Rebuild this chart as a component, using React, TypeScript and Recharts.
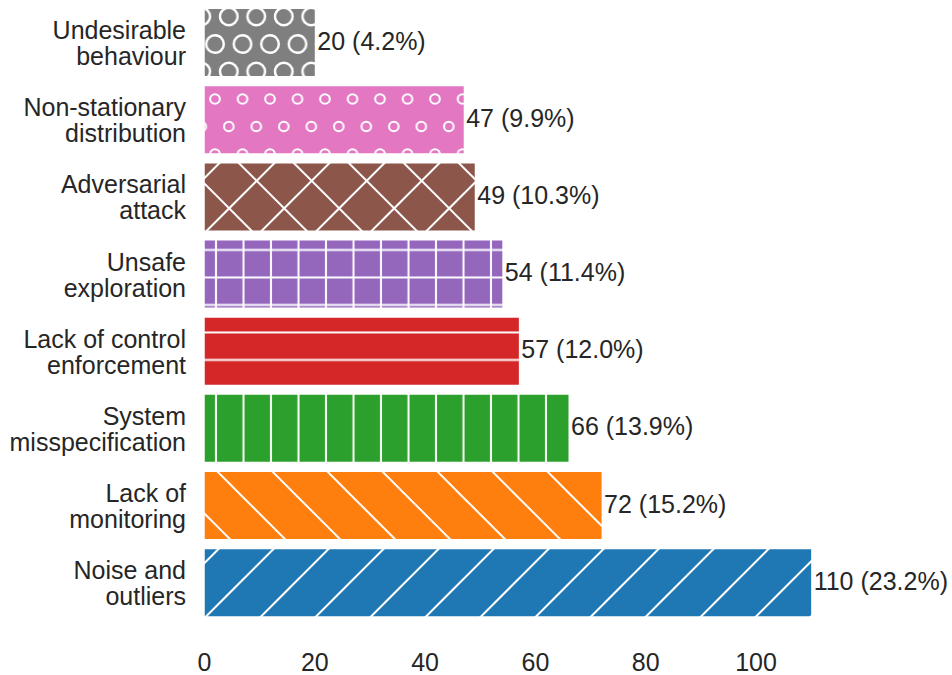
import React from 'react';
import { BarChart, Bar, XAxis, YAxis, Cell } from 'recharts';

const categories = [
  'Undesirable\nbehaviour',
  'Non-stationary\ndistribution',
  'Adversarial\nattack',
  'Unsafe\nexploration',
  'Lack of control\nenforcement',
  'System\nmisspecification',
  'Lack of\nmonitoring',
  'Noise and\noutliers',
];
const counts = [20, 47, 49, 54, 57, 66, 72, 110];
const xTicks = [0, 20, 40, 60, 80, 100];
const colors = ['#7f7f7f', '#e377c2', '#8c564b', '#9467bd', '#d62728', '#2ca02c', '#ff7f0e', '#1f77b4'];
const hatches = ['O', 'o', 'x', '+', '-', '|', '\\', '/'];

const total = counts.reduce((a, b) => a + b, 0);
const data = categories.map((name, i) => ({ name, value: counts[i] }));

const FONT = '"Liberation Sans", Arial, Helvetica, sans-serif';
const TEXT = '#262626';
const FS = 25;

function diagLines(kind: 'fwd' | 'back') {
  const out: any[] = [];
  if (kind === 'fwd') {
    [-2.5, 52.5, 107.5].forEach((c, i) => {
      out.push(<line key={'f' + i} x1={c + 10} y1={-10} x2={c - 65} y2={65} stroke="#fff" strokeWidth={2} />);
    });
  } else {
    [-34.2, 20.8, 75.8].forEach((c, i) => {
      out.push(<line key={'b' + i} x1={c - 10} y1={-10} x2={c + 65} y2={65} stroke="#fff" strokeWidth={2} />);
    });
  }
  return out;
}

function circles(r: number, sw: number) {
  const out: any[] = [];
  const centers = [
    [8.8, 16.5],
    [22.5, 44],
  ];
  centers.forEach(([cx, cy], k) => {
    [-27.5, 0, 27.5].forEach((dx, a) => {
      [-55, 0, 55].forEach((dy, b) => {
        out.push(
          <circle key={`c${k}${a}${b}`} cx={cx + dx} cy={cy + dy} r={r} fill="none" stroke="#fff" strokeWidth={sw} />
        );
      });
    });
  });
  return out;
}

function Pattern({ id, color, hatch }: { id: string; color: string; hatch: string }) {
  let w = 55;
  let h = 55;
  let content: any[] = [];
  if (hatch === '/') content = diagLines('fwd');
  else if (hatch === '\\') content = diagLines('back');
  else if (hatch === 'x') content = [...diagLines('fwd'), ...diagLines('back')];
  else if (hatch === '|' || hatch === '-' || hatch === '+') {
    w = 27.5;
    h = 27.5;
    if (hatch !== '-') content.push(<line key="v" x1={23.5} y1={-5} x2={23.5} y2={35} stroke="#fff" strokeWidth={2} />);
    if (hatch !== '|') content.push(<line key="h" x1={-5} y1={2.4} x2={35} y2={2.4} stroke="#fff" strokeWidth={2} />);
  } else if (hatch === 'o') {
    w = 27.5;
    content = circles(4.8, 2);
  } else if (hatch === 'O') {
    w = 27.5;
    content = circles(8.8, 2.4);
  }
  return (
    <pattern id={id} patternUnits="userSpaceOnUse" x={0} y={0} width={w} height={h}>
      <rect x={0} y={0} width={w} height={h} fill={color} />
      {content}
    </pattern>
  );
}

const YTick = (props: any) => {
  const { y, payload } = props;
  const lines = String(payload.value).split('\n');
  return (
    <text textAnchor="end" fontSize={FS} fill={TEXT} fontFamily={FONT}>
      {lines.map((l, i) => (
        <tspan key={i} x={186} y={y - 3.5 + i * 26}>
          {l}
        </tspan>
      ))}
    </text>
  );
};

const XTick = (props: any) => {
  const { x, y, payload } = props;
  return (
    <text x={x} y={y + 49.5} textAnchor="middle" fontSize={FS} fill={TEXT} fontFamily={FONT}>
      {payload.value}
    </text>
  );
};

const renderLabel = (props: any) => {
  const { x, y, width, height, value } = props;
  const pct = ((Number(value) / total) * 100).toFixed(1);
  return (
    <text x={x + width + 2.5} y={y + height / 2 + 7} fontSize={FS} fill={TEXT} fontFamily={FONT}>
      {`${value} (${pct}%)`}
    </text>
  );
};

export default function App() {
  return (
    <div style={{ position: 'absolute', left: 0, top: 0, width: 952, height: 675, background: '#fff' }}>
      <svg width={0} height={0} style={{ position: 'absolute' }}>
        <defs>
          {colors.map((c, i) => (
            <Pattern key={i} id={`hatch-${i}`} color={c} hatch={hatches[i]} />
          ))}
        </defs>
      </svg>
      <BarChart
        layout="vertical"
        width={952}
        height={675}
        data={data}
        margin={{ top: 4.1, right: 110.5, bottom: 13.7, left: 0 }}
      >
        <XAxis
          type="number"
          domain={[0, 115.5]}
          ticks={xTicks}
          axisLine={false}
          tickLine={false}
          tickSize={0}
          tickMargin={0}
          height={40}
          tick={<XTick />}
          allowDataOverflow
        />
        <YAxis
          type="category"
          dataKey="name"
          width={204.5}
          axisLine={false}
          tickLine={false}
          tick={<YTick />}
          interval={0}
        />
        <Bar dataKey="value" barSize={67} isAnimationActive={false} label={renderLabel}>
          {data.map((d, i) => (
            <Cell key={i} fill={`url(#hatch-${i})`} />
          ))}
        </Bar>
      </BarChart>
    </div>
  );
}
